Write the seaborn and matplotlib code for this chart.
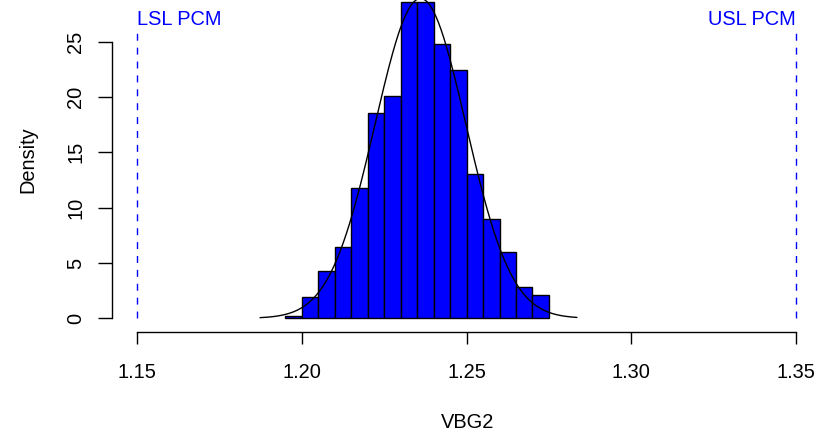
import numpy as np
import pandas as pd
import seaborn as sns
import matplotlib
matplotlib.use("Agg")
import matplotlib.pyplot as plt

# ---- data ----
bin_edges = [1.195, 1.200, 1.205, 1.210, 1.215, 1.220, 1.225, 1.230, 1.235,
             1.240, 1.245, 1.250, 1.255, 1.260, 1.265, 1.270, 1.275]
densities = [0.24, 1.96, 4.29, 6.43, 11.78, 18.6, 20.08, 28.6, 28.6,
             24.8, 22.4, 13.04, 9.0, 5.98, 2.81, 2.14]
fit_mean = 1.236
fit_sd = 0.0138
curve_from, curve_to = 1.1873, 1.2835
lsl, usl = 1.15, 1.35
spec_labels = ["LSL PCM", "USL PCM"]
x_ticks = [1.15, 1.20, 1.25, 1.30, 1.35]
x_tick_labels = ["1.15", "1.20", "1.25", "1.30", "1.35"]
y_ticks = [0, 5, 10, 15, 20, 25]
x_label = "VBG2"
y_label = "Density"

sns.set_theme(style="white")
plt.rcParams["font.family"] = ["Liberation Sans", "DejaVu Sans"]
plt.rcParams["text.color"] = "black"
plt.rcParams["xtick.color"] = "black"
plt.rcParams["ytick.color"] = "black"

W, H = 823, 436
fig = plt.figure(figsize=(W / 100, H / 100), dpi=100)
left_px, bottom_px = 111.7, 332
ax = fig.add_axes([left_px / W, (H - bottom_px) / H, (W - left_px) / W, bottom_px / H])

centers = [(a + b) / 2 for a, b in zip(bin_edges[:-1], bin_edges[1:])]
df = pd.DataFrame({"x": centers, "w": densities})
sns.histplot(data=df, x="x", weights="w", bins=bin_edges, stat="count",
             color="#0000ff", edgecolor="black", linewidth=1.0, alpha=1.0, ax=ax)

xs = np.linspace(curve_from, curve_to, 400)
ys = np.exp(-0.5 * ((xs - fit_mean) / fit_sd) ** 2) / (fit_sd * np.sqrt(2 * np.pi))
sns.lineplot(x=xs, y=ys, color="black", linewidth=1.0, ax=ax)

ax.vlines([lsl, usl], 0, 25.8, colors="#0000ff", linestyles=(0, (5, 5)), linewidth=1.0)
fs = 14.4
ax.text(lsl, 27.0, spec_labels[0], color="#0000ff", ha="left", va="center", fontsize=fs)
ax.text(usl, 27.0, spec_labels[1], color="#0000ff", ha="right", va="center", fontsize=fs)

ax.set_xlim(1.14226, 1.3582)
ax.set_ylim(-1.24, 28.77)

for s in ["top", "right"]:
    ax.spines[s].set_visible(False)
for s in ["left", "bottom"]:
    ax.spines[s].set_color("black")
    ax.spines[s].set_linewidth(1.0)
ax.spines["left"].set_bounds(0, 25)
ax.spines["bottom"].set_bounds(lsl, usl)

ax.set_xticks(x_ticks)
ax.set_xticklabels(x_tick_labels, fontsize=fs, color="black")
ax.set_yticks(y_ticks)
ax.set_yticklabels([str(v) for v in y_ticks], fontsize=fs, rotation=90,
                   va="center", ha="center", color="black")
ax.tick_params(axis="x", which="major", bottom=True, direction="out", length=8.5,
               width=1.0, color="black", labelcolor="black", pad=14)
ax.tick_params(axis="y", which="major", left=True, direction="out", length=9.8,
               width=1.0, color="black", labelcolor="black", pad=16)
ax.set_xlabel("")
ax.set_ylabel("")
ax.grid(False)

fig.text(468 / W, 1 - 422 / H, x_label, ha="center", va="center", fontsize=fs, color="black")
fig.text(28 / W, 1 - 160 / H, y_label, ha="center", va="center", fontsize=fs,
         rotation=90, color="black")

fig.savefig("out.png", dpi=100)
